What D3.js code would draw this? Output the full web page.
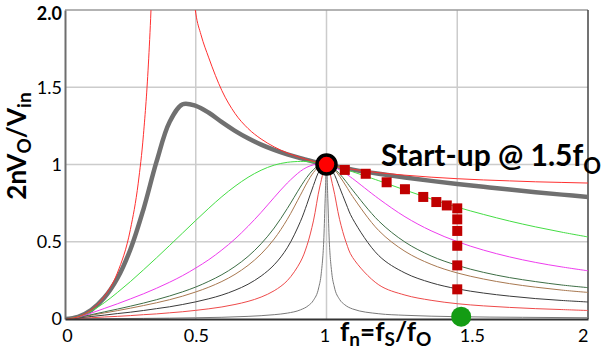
<!DOCTYPE html>
<html><head><meta charset="utf-8">
<script src="https://cdn.jsdelivr.net/npm/d3@7"></script>
<style>
html,body{margin:0;padding:0;background:#fff;}
svg{display:block;font-family:Lato,"Open Sans",sans-serif;}
</style>
</head><body>
<svg id="chart" width="605" height="350"></svg>
<script>
// ---------- data ----------
const fnGrid = [0,0.05,0.1,0.15,0.2,0.25,0.3,0.35,0.4,0.45,0.5,0.55,0.6,0.65,0.7,0.75,0.8,0.85,0.9,0.925,0.95,0.975,1,1.025,1.05,1.075,1.1,1.2,1.3,1.4,1.5,1.6,1.7,1.8,1.9,2];
const gainThick = [0,0.014,0.058,0.137,0.262,0.45,0.71,1.018,1.275,1.39,1.38,1.335,1.274,1.218,1.17,1.129,1.095,1.066,1.041,1.03,1.019,1.009,1,0.991,0.983,0.975,0.967,0.94,0.916,0.894,0.874,0.856,0.838,0.821,0.805,0.79];
const gainGreen = [0,0.014,0.051,0.105,0.171,0.242,0.318,0.396,0.476,0.557,0.638,0.717,0.792,0.859,0.917,0.963,0.996,1.014,1.02,1.019,1.015,1.008,1,0.99,0.979,0.967,0.953,0.895,0.835,0.777,0.724,0.677,0.634,0.596,0.562,0.531];
const gainMagenta = [0,0.012,0.038,0.068,0.098,0.13,0.163,0.199,0.238,0.281,0.33,0.384,0.447,0.518,0.6,0.69,0.787,0.88,0.956,0.982,0.998,1.004,1,0.987,0.966,0.939,0.909,0.778,0.662,0.571,0.501,0.446,0.402,0.366,0.337,0.312];
const gainDarkGreen = [0,0.01,0.028,0.046,0.064,0.083,0.103,0.125,0.149,0.176,0.207,0.244,0.287,0.34,0.405,0.487,0.589,0.715,0.854,0.917,0.967,0.996,1,0.979,0.94,0.889,0.834,0.634,0.498,0.408,0.347,0.302,0.268,0.242,0.22,0.203];
const gainBrown = [0,0.01,0.024,0.039,0.054,0.07,0.087,0.105,0.125,0.148,0.175,0.206,0.243,0.289,0.347,0.421,0.518,0.645,0.801,0.88,0.948,0.991,1,0.975,0.924,0.86,0.793,0.572,0.438,0.354,0.298,0.259,0.229,0.206,0.187,0.172];
const gainBlack = [0,0.007,0.016,0.025,0.035,0.044,0.055,0.067,0.079,0.094,0.111,0.131,0.155,0.186,0.225,0.278,0.351,0.461,0.63,0.742,0.864,0.965,1,0.951,0.852,0.745,0.649,0.41,0.298,0.235,0.195,0.168,0.148,0.132,0.12,0.11];
const gainRed = [0,0.004,0.008,0.013,0.017,0.022,0.028,0.033,0.04,0.047,0.056,0.066,0.078,0.094,0.114,0.142,0.183,0.248,0.369,0.474,0.635,0.861,1,0.855,0.645,0.496,0.398,0.221,0.155,0.121,0.099,0.085,0.075,0.067,0.061,0.055];

const fnNoLoadLow = [0,0.05,0.1,0.15,0.2,0.25,0.28,0.3,0.32,0.33,0.34,0.35];
const gainNoLoadLow = [0,0.014,0.059,0.145,0.297,0.579,0.879,1.193,1.684,2.05,2.56,3.31];
const fnNoLoadHigh = [0.46,0.48,0.5,0.52,0.55,0.6,0.65,0.7,0.75,0.8,0.85,0.9,0.95,1,1.05,1.1,1.2,1.3,1.4,1.5,1.6,1.7,1.8,1.9,2];
const gainNoLoadHigh = [2.9,2.3,1.98,1.84,1.69,1.478,1.331,1.233,1.165,1.114,1.075,1.045,1.02,1,0.983,0.969,0.947,0.931,0.918,0.908,0.9,0.894,0.888,0.884,0.88];

const fnSpike = [0,0.3,0.5,0.7,0.8,0.85,0.9,0.93,0.95,0.97,0.98,0.99,0.995,1,1.005,1.01,1.02,1.03,1.05,1.07,1.1,1.2,1.3,1.5,1.75,2];
const gainSpike = [0,0.004,0.008,0.017,0.028,0.038,0.059,0.086,0.121,0.201,0.296,0.529,0.78,1,0.781,0.531,0.301,0.207,0.127,0.092,0.065,0.034,0.024,0.015,0.011,0.008];

const startupX = [1.07,1.15,1.23,1.3,1.37,1.42,1.46,1.5,1.5,1.5,1.5,1.5,1.5];
const startupY = [0.965,0.94,0.885,0.84,0.79,0.757,0.735,0.716,0.645,0.57,0.474,0.347,0.192];

const resonancePoint = [1, 1];
const startPoint = [1.515, 0.015];

const xTicks = [0, 0.5, 1, 1.5, 2];
const xTickLabels = ["0", "0.5", "1", "1.5", "2"];
const yTicks = [0, 0.5, 1, 1.5, 2];
const yTickLabels = ["0", "0.5", "1", "1.5", "2.0"];

// ---------- chart ----------
const W = 605, H = 350;
const m = {l: 65, r: 17, t: 10, b: 31};
const x = d3.scaleLinear().domain([0, 2]).range([m.l, W - m.r]);
const y = d3.scaleLinear().domain([0, 2]).range([H - m.b, m.t]);
const svg = d3.select("#chart");

svg.append("defs").append("clipPath").attr("id", "plotclip")
  .append("rect").attr("x", x(0)).attr("y", y(2)).attr("width", x(2) - x(0)).attr("height", y(0) - y(2));

// grid
const grid = svg.append("g");
grid.selectAll("line.gx").data([0.5, 1, 1.5]).join("line")
  .attr("x1", d => x(d)).attr("x2", d => x(d)).attr("y1", y(0)).attr("y2", y(2))
  .attr("stroke", "#cccccc").attr("stroke-width", 1.5);
grid.selectAll("line.gy").data([0.5, 1, 1.5]).join("line")
  .attr("y1", d => y(d)).attr("y2", d => y(d)).attr("x1", x(0)).attr("x2", x(2))
  .attr("stroke", "#cccccc").attr("stroke-width", 1.5);
// top border & right border
svg.append("line").attr("x1", x(0)).attr("x2", x(2)).attr("y1", y(2)).attr("y2", y(2))
  .attr("stroke", "#9a9a9a").attr("stroke-width", 1.5);
svg.append("line").attr("x1", x(2)).attr("x2", x(2)).attr("y1", y(2)).attr("y2", y(0))
  .attr("stroke", "#444").attr("stroke-width", 1.5);

const plot = svg.append("g").attr("clip-path", "url(#plotclip)");
const line = (xs, curve) => d3.line().x((d, i) => x(xs[i])).y(d => y(d)).curve(curve);
const smooth = d3.curveCatmullRom.alpha(0.5);
const mono = d3.curveMonotoneX;

const series = [
  {xs: fnGrid, ys: gainThick, color: "#707070", w: 4.5, c: smooth},
  {xs: fnSpike, ys: gainSpike, color: "#7a7a7a", w: 1, c: mono},
  {xs: fnGrid, ys: gainRed, color: "#ee4a4a", w: 1, c: smooth},
  {xs: fnGrid, ys: gainBlack, color: "#3a3a3a", w: 1, c: smooth},
  {xs: fnGrid, ys: gainBrown, color: "#a87850", w: 1, c: smooth},
  {xs: fnGrid, ys: gainDarkGreen, color: "#3d6e45", w: 1, c: smooth},
  {xs: fnGrid, ys: gainMagenta, color: "#ee3cee", w: 1, c: smooth},
  {xs: fnGrid, ys: gainGreen, color: "#44dd44", w: 1, c: smooth},
  {xs: fnNoLoadLow, ys: gainNoLoadLow, color: "#ff3030", w: 1, c: mono},
  {xs: fnNoLoadHigh, ys: gainNoLoadHigh, color: "#ff3030", w: 1, c: mono}
];
series.forEach(s => {
  plot.append("path").datum(s.ys).attr("d", line(s.xs, s.c))
    .attr("fill", "none").attr("stroke", s.color).attr("stroke-width", s.w)
    .attr("stroke-linejoin", "round");
});

// axes
const yAxis = svg.append("g").attr("transform", `translate(${x(0)},0)`)
  .call(d3.axisLeft(y).tickValues(yTicks).tickFormat((d, i) => yTickLabels[i]).tickSize(0).tickPadding(3));
yAxis.select(".domain").attr("stroke", "#6e6e6e").attr("stroke-width", 2);
yAxis.selectAll("text").attr("font-size", 18).attr("fill", "#000").attr("font-family", "Lato")
  .attr("font-weight", d => d === 2 ? "bold" : "normal")
  .attr("dy", d => d === 2 ? "0.5em" : "0.32em");

const xAxis = svg.append("g").attr("transform", `translate(0,${y(0)})`)
  .call(d3.axisBottom(x).tickValues(xTicks).tickFormat((d, i) => xTickLabels[i]).tickSize(0).tickPadding(10));
xAxis.select(".domain").attr("stroke", "#333").attr("stroke-width", 2);
xAxis.selectAll("text").attr("font-size", 18).attr("fill", "#000").attr("font-family", "Lato")
  .attr("text-anchor", d => d === 2 ? "end" : (d === 1.5 ? "start" : "middle"))
  .attr("dx", d => d === 0 ? 2 : (d === 1 ? -2 : 0))
  .attr("x", d => d === 1.5 ? 2 : 0);

// markers
svg.selectAll("rect.sq").data(startupX).join("rect").attr("class", "sq")
  .attr("x", (d, i) => x(d) - 5).attr("y", (d, i) => y(startupY[i]) - 5)
  .attr("width", 10).attr("height", 10).attr("fill", "#c00000");

svg.append("circle").attr("cx", x(resonancePoint[0])).attr("cy", y(resonancePoint[1])).attr("r", 9.5)
  .attr("fill", "#ff0000").attr("stroke", "#000").attr("stroke-width", 3.5);
svg.append("circle").attr("cx", x(startPoint[0])).attr("cy", y(startPoint[1])).attr("r", 10)
  .attr("fill", "#149c14");

// labels
const yl = svg.append("text").attr("transform", "translate(26,146) rotate(-90)")
  .attr("text-anchor", "middle").attr("font-weight", "bold").attr("font-size", 26).attr("fill", "#000");
yl.append("tspan").text("2nV");
yl.append("tspan").attr("font-size", 19).attr("dy", 5).text("O");
yl.append("tspan").attr("dy", -5).text("/V");
yl.append("tspan").attr("font-size", 19).attr("dy", 5).text("in");

const xl = svg.append("text").attr("x", 340).attr("y", 341)
  .attr("font-weight", "bold").attr("font-size", 26).attr("fill", "#000");
xl.append("tspan").text("f");
xl.append("tspan").attr("font-size", 19).attr("dy", 5).text("n");
xl.append("tspan").attr("dy", -5).text("=f");
xl.append("tspan").attr("font-size", 19).attr("dy", 5).text("S");
xl.append("tspan").attr("dy", -5).text("/f");
xl.append("tspan").attr("font-size", 19).attr("dy", 5).text("O");

const st = svg.append("text").attr("x", 381).attr("y", 166)
  .attr("font-weight", "bold").attr("font-size", 30).attr("fill", "#000");
st.append("tspan").text("Start-up @ 1.5f");
st.append("tspan").attr("font-size", 22).attr("dy", 8).text("O");
</script>
</body></html>
